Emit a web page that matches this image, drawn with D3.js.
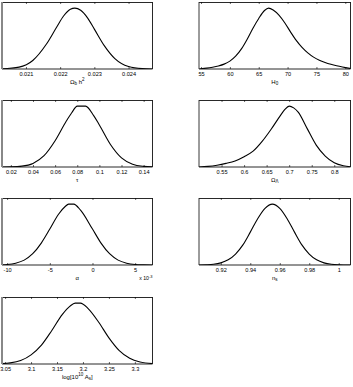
<!DOCTYPE html>
<html><head><meta charset="utf-8">
<script src="https://cdn.jsdelivr.net/npm/d3@7"></script>
<style>
body{margin:0;background:#fff}
svg{display:block}
text{font-family:"Liberation Sans",Arial,Helvetica,sans-serif;fill:#000}
</style></head><body>
<script>
// ---- data (normalised marginal posteriors) ----
const obh2X = [0.0203,0.0208,0.0212,0.0216,0.0219,0.0221,0.0223,0.02243,0.0226,0.0228,0.0230,0.0233,0.0236,0.0240,0.0244,0.0247];
const obh2Y = [0.003,0.031,0.14,0.41,0.69,0.87,0.98,1.0,0.964,0.84,0.655,0.375,0.17,0.04,0.006,0.001];
const obh2Ticks = [0.021,0.022,0.023,0.024];
const obh2TickLabels = ["0.021","0.022","0.023","0.024"];
const obh2Domain = [0.0203,0.0247];

const h0X = [54.7,55,56,57,58,59,60,61,62,63,64,65,66,66.7,67.5,68.5,69.5,70.5,71.5,72.5,73.5,74.5,75.5,76.5,77.5,78.5,79.5,80.5,80.9];
const h0Y = [0.0,0.005,0.015,0.03,0.05,0.08,0.13,0.21,0.33,0.49,0.67,0.83,0.96,1.0,0.97,0.885,0.76,0.61,0.47,0.355,0.265,0.195,0.145,0.108,0.078,0.053,0.032,0.014,0.008];
const h0Ticks = [55,60,65,70,75,80];
const h0TickLabels = ["55","60","65","70","75","80"];
const h0Domain = [54.65,80.9];

const tauX = [0.012,0.02,0.03,0.04,0.05,0.06,0.07,0.075,0.080,0.0875,0.095,0.10,0.11,0.12,0.13,0.14,0.148];
const tauY = [0.0005,0.0025,0.014,0.059,0.185,0.43,0.75,0.89,1.0,1.0,0.84,0.69,0.37,0.15,0.045,0.01,0.002];
const tauTicks = [0.02,0.04,0.06,0.08,0.1,0.12,0.14];
const tauTickLabels = ["0.02","0.04","0.06","0.08","0.1","0.12","0.14"];
const tauDomain = [0.012,0.148];

const olX = [0.50,0.52,0.54,0.56,0.58,0.60,0.62,0.64,0.66,0.68,0.69,0.70,0.71,0.72,0.74,0.76,0.78,0.80,0.82,0.836];
const olY = [0.0,0.01,0.03,0.06,0.10,0.17,0.26,0.42,0.62,0.84,0.94,1.0,0.97,0.90,0.63,0.36,0.18,0.07,0.02,0.005];
const olTicks = [0.55,0.6,0.65,0.7,0.75,0.8];
const olTickLabels = ["0.55","0.6","0.65","0.7","0.75","0.8"];
const olDomain = [0.5,0.836];

const alphaX = [-10.6,-10,-9,-8,-7,-6,-5,-4,-3.2,-2.8,-2.2,-1.4,0,1,2,3,4,5,6,7.03];
const alphaY = [0.004,0.009,0.03,0.08,0.185,0.36,0.59,0.83,0.96,1.0,1.0,0.90,0.59,0.36,0.185,0.08,0.03,0.009,0.0025,0.0];
const alphaTicks = [-10,-5,0,5];
const alphaTickLabels = ["-10","-5","0","5"];
const alphaDomain = [-10.6,7.03];

const nsX = [0.905,0.91,0.915,0.92,0.925,0.93,0.935,0.94,0.945,0.95,0.955,0.96,0.965,0.97,0.975,0.98,0.985,0.99,0.995,1.0,1.008];
const nsY = [0.001,0.004,0.012,0.035,0.085,0.18,0.33,0.54,0.76,0.93,1.0,0.93,0.76,0.54,0.33,0.18,0.085,0.035,0.012,0.004,0.0005];
const nsTicks = [0.92,0.94,0.96,0.98,1];
const nsTickLabels = ["0.92","0.94","0.96","0.98","1"];
const nsDomain = [0.9052,1.008];

const asX = [3.044,3.06,3.08,3.10,3.12,3.14,3.16,3.175,3.185,3.195,3.21,3.23,3.25,3.27,3.29,3.31,3.334];
const asY = [0.0065,0.018,0.057,0.15,0.31,0.55,0.81,0.95,1.0,1.0,0.91,0.69,0.43,0.22,0.094,0.033,0.007];
const asTicks = [3.05,3.1,3.15,3.2,3.25,3.3];
const asTickLabels = ["3.05","3.1","3.15","3.2","3.25","3.3"];
const asDomain = [3.044,3.334];

const yDomain = [0,1.1];

// ---- layout ----
const W=353,H=387;
const cols=[[2,152.5],[199,350.5]];
const rowTops=[2,100,198,297], ph=67;

const panels=[
 {xs:obh2X,ys:obh2Y,ticks:obh2Ticks,labels:obh2TickLabels,dom:obh2Domain,c:0,r:0,title:[["Ω",0],["b",1],[" h",0],["2",2]]},
 {xs:h0X,ys:h0Y,ticks:h0Ticks,labels:h0TickLabels,dom:h0Domain,c:1,r:0,title:[["H",0],["0",1]]},
 {xs:tauX,ys:tauY,ticks:tauTicks,labels:tauTickLabels,dom:tauDomain,c:0,r:1,title:[["τ",0]]},
 {xs:olX,ys:olY,ticks:olTicks,labels:olTickLabels,dom:olDomain,c:1,r:1,title:[["Ω",0],["Λ",1]]},
 {xs:alphaX,ys:alphaY,ticks:alphaTicks,labels:alphaTickLabels,dom:alphaDomain,c:0,r:2,title:[["α",0]],exp:true},
 {xs:nsX,ys:nsY,ticks:nsTicks,labels:nsTickLabels,dom:nsDomain,c:1,r:2,title:[["n",0],["s",1]]},
 {xs:asX,ys:asY,ticks:asTicks,labels:asTickLabels,dom:asDomain,c:0,r:3,title:[["log[10",0],["10",2],[" A",0],["s",1],["]",0]]}
];

const svg=d3.select("body").append("svg").attr("width",W).attr("height",H);

panels.forEach((p,i)=>{
  const x0=cols[p.c][0], x1=cols[p.c][1];
  const y0=rowTops[p.r], y1=y0+ph;
  const x=d3.scaleLinear().domain(p.dom).range([x0,x1]);
  const y=d3.scaleLinear().domain(yDomain).range([y1,y0]);
  const g=svg.append("g");
  g.append("clipPath").attr("id","c"+i).append("rect").attr("x",x0).attr("y",y0).attr("width",x1-x0).attr("height",ph);
  // curve
  const pts=p.xs.map((v,k)=>[v,p.ys[k]]);
  g.append("path").attr("clip-path","url(#c"+i+")")
   .attr("d",d3.line().x(d=>x(d[0])).y(d=>y(d[1])).curve(d3.curveMonotoneX)(pts))
   .attr("fill","none").attr("stroke","#000").attr("stroke-width",1.1);
  // box
  g.append("line").attr("x1",x0).attr("x2",x1).attr("y1",y0+0.5).attr("y2",y0+0.5).attr("stroke","#111").attr("stroke-width",0.9);
  g.append("line").attr("x1",x0).attr("x2",x1).attr("y1",y1).attr("y2",y1).attr("stroke","#111").attr("stroke-width",0.9);
  g.append("line").attr("x1",x1).attr("x2",x1).attr("y1",y0).attr("y2",y1).attr("stroke","#111").attr("stroke-width",0.9);
  g.append("line").attr("x1",x0).attr("x2",x0).attr("y1",y0).attr("y2",y1)
   .attr("stroke",p.c===0?"#888":"#222").attr("stroke-width",p.c===0?2:0.9);
  // axes ticks (inward, bottom and top)
  const axB=d3.axisBottom(x).tickValues(p.ticks).tickSize(-2).tickPadding(3.5).tickFormat((d,k)=>p.labels[k]);
  const gb=g.append("g").attr("transform",`translate(0,${y1})`).call(axB);
  gb.select(".domain").remove();
  gb.selectAll("line").attr("stroke","#000").attr("stroke-width",0.6);
  gb.selectAll("text").attr("font-size",5.6).attr("font-family","Liberation Sans, Arial, sans-serif").attr("fill","#000");
  const axT=d3.axisTop(x).tickValues(p.ticks).tickSize(-2).tickFormat("");
  const gt=g.append("g").attr("transform",`translate(0,${y0})`).call(axT);
  gt.select(".domain").remove();
  gt.selectAll("line").attr("stroke","#000").attr("stroke-width",0.6);
  // axis label
  const t=g.append("text").attr("x",(x0+x1)/2).attr("y",y1+14.5).attr("text-anchor","middle").attr("font-size",6);
  p.title.forEach(([s,k])=>{
    const ts=t.append("tspan").text(s);
    if(k===1) ts.attr("font-size",4.5).attr("baseline-shift","-25%");
    if(k===2) ts.attr("font-size",4.5).attr("baseline-shift","55%");
  });
  if(p.exp){
    const e=g.append("text").attr("x",x1).attr("y",y1+15).attr("text-anchor","end").attr("font-size",5.2);
    e.append("tspan").text("x 10");
    e.append("tspan").text("-3").attr("font-size",4).attr("baseline-shift","55%");
  }
});
</script>
</body></html>
